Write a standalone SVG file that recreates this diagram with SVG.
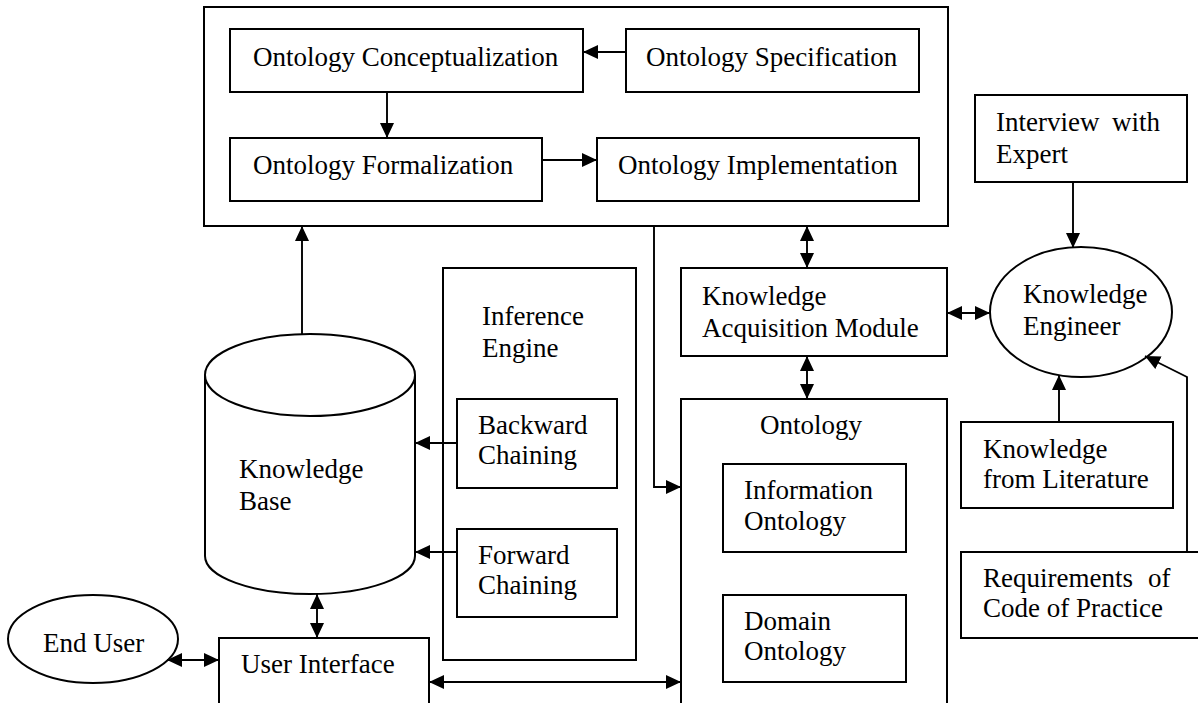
<svg xmlns="http://www.w3.org/2000/svg" width="1198" height="703" viewBox="0 0 1198 703">
<style>
text{font-family:"Liberation Serif","Times New Roman",serif;font-size:27px;fill:#000}
.b{fill:#fff;stroke:#000;stroke-width:2}
.c{fill:none;stroke:#000;stroke-width:1.9}
</style>
<defs>
<marker id="ah" viewBox="0 0 15 14" refX="15" refY="7" markerWidth="15" markerHeight="14" orient="auto-start-reverse" markerUnits="userSpaceOnUse"><path d="M0,0 L15,7 L0,14 z" fill="#000"/></marker>
</defs>
<rect width="1198" height="703" fill="#fff"/>
<g id="ontology-dev">
<rect class="b" x="204" y="7" width="744" height="219"/>
</g>
<g id="conceptualization"><rect class="b" x="230" y="29" width="353" height="63"/><text x="253" y="66">Ontology Conceptualization</text></g>
<g id="specification"><rect class="b" x="626" y="29" width="293" height="63"/><text x="646" y="66">Ontology Specification</text></g>
<g id="formalization"><rect class="b" x="230" y="138" width="312" height="63"/><text x="253" y="174">Ontology Formalization</text></g>
<g id="implementation"><rect class="b" x="597" y="138" width="322" height="63"/><text x="618" y="174">Ontology Implementation</text></g>
<g id="knowledge-base">
<path class="b" d="M205,375 A105,41 0 0 1 415,375 L415,556 A105,38 0 0 1 205,556 Z"/>
<path class="c" style="stroke-width:2" d="M205,375 A105,41 0 0 0 415,375"/>
<text x="239" y="478">Knowledge</text><text x="239" y="510">Base</text>
</g>
<g id="inference-engine">
<rect class="b" x="443" y="268" width="193" height="392"/>
<text x="482" y="325">Inference</text><text x="482" y="357">Engine</text>
</g>
<g id="backward"><rect class="b" x="457" y="399" width="160" height="89"/><text x="478" y="434">Backward</text><text x="478" y="464">Chaining</text></g>
<g id="forward"><rect class="b" x="457" y="529" width="160" height="88"/><text x="478" y="564">Forward</text><text x="478" y="594">Chaining</text></g>
<g id="kam"><rect class="b" x="681" y="268" width="266" height="88"/><text x="702" y="305">Knowledge</text><text x="702" y="337">Acquisition Module</text></g>
<g id="ontology"><rect class="b" x="681" y="399" width="266" height="320"/><text x="760" y="434">Ontology</text></g>
<g id="information-ontology"><rect class="b" x="723" y="464" width="183" height="88"/><text x="744" y="499">Information</text><text x="744" y="530">Ontology</text></g>
<g id="domain-ontology"><rect class="b" x="723" y="595" width="183" height="87"/><text x="744" y="630">Domain</text><text x="744" y="660">Ontology</text></g>
<g id="user-interface"><rect class="b" x="219" y="638" width="210" height="80"/><text x="241" y="673">User Interface</text></g>
<g id="end-user"><ellipse class="b" cx="93" cy="639" rx="85" ry="44"/><text x="43" y="652">End User</text></g>
<g id="knowledge-engineer"><ellipse class="b" cx="1081" cy="312" rx="91" ry="65"/><text x="1023" y="303">Knowledge</text><text x="1023" y="335">Engineer</text></g>
<g id="interview"><rect class="b" x="975" y="95" width="212" height="87"/><text x="996" y="131">Interview</text><text x="1112" y="131">with</text><text x="996" y="163">Expert</text></g>
<g id="literature"><rect class="b" x="961" y="422" width="212" height="86"/><text x="983" y="458">Knowledge</text><text x="983" y="488">from Literature</text></g>
<g id="requirements"><rect class="b" x="961" y="552" width="250" height="86"/><text x="983" y="587">Requirements</text><text x="1148" y="587">of</text><text x="983" y="617">Code of Practice</text></g>
<g id="connectors">
<path class="c" d="M626,52 L583,52" marker-end="url(#ah)"/>
<path class="c" d="M387,92 L387,138" marker-end="url(#ah)"/>
<path class="c" d="M542,160 L597,160" marker-end="url(#ah)"/>
<path class="c" d="M302,334 L302,226" marker-end="url(#ah)"/>
<path class="c" d="M654,226 L654,487 L681,487" marker-end="url(#ah)"/>
<path class="c" d="M807,226 L807,268" marker-start="url(#ah)" marker-end="url(#ah)"/>
<path class="c" d="M807,356 L807,399" marker-start="url(#ah)" marker-end="url(#ah)"/>
<path class="c" d="M947,313 L990,313" marker-start="url(#ah)" marker-end="url(#ah)"/>
<path class="c" d="M1073,182 L1073,248" marker-end="url(#ah)"/>
<path class="c" d="M1059,422 L1059,375" marker-end="url(#ah)"/>
<path class="c" d="M1187,552 L1187,377 L1145,356" marker-end="url(#ah)"/>
<path class="c" d="M457,443 L415,443" marker-end="url(#ah)"/>
<path class="c" d="M457,552 L415,552" marker-end="url(#ah)"/>
<path class="c" d="M317,594 L317,638" marker-start="url(#ah)" marker-end="url(#ah)"/>
<path class="c" d="M167,660 L219,660" marker-start="url(#ah)" marker-end="url(#ah)"/>
<path class="c" d="M429,682 L681,682" marker-start="url(#ah)" marker-end="url(#ah)"/>
</g>
</svg>
